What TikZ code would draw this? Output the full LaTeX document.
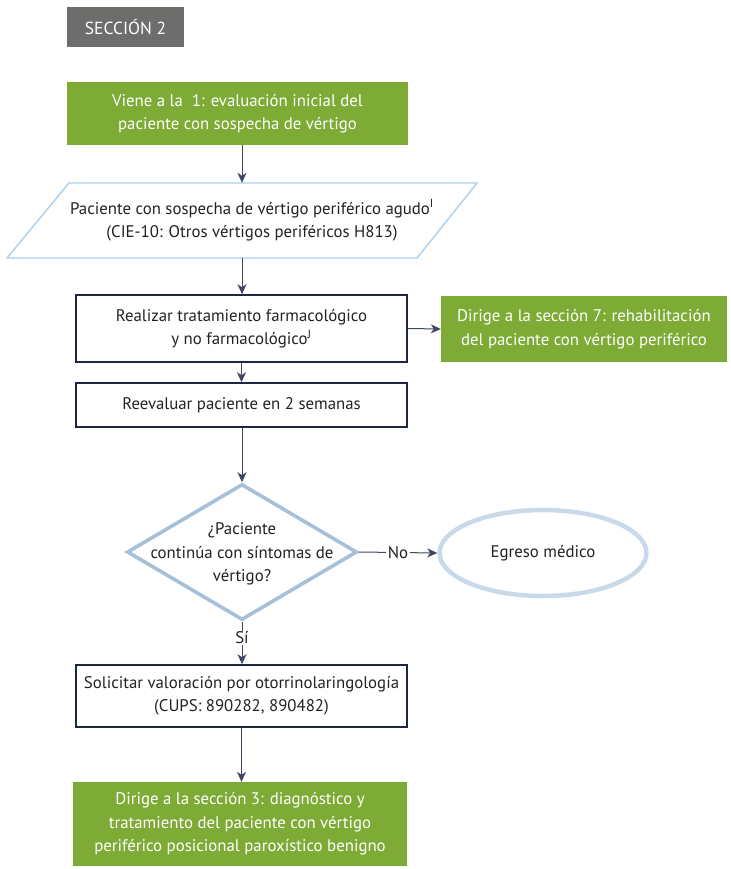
\documentclass[tikz,border=0pt]{standalone}
\usepackage{fontspec}
\setmainfont{PT Sans}
\usetikzlibrary{arrows.meta,shapes.geometric}
\definecolor{leaf}{HTML}{7DAB36}
\definecolor{slate}{HTML}{6D6D6B}
\definecolor{ink}{HTML}{1D2744}
\definecolor{txt}{HTML}{222222}
\definecolor{skyline}{HTML}{A9D1EE}
\definecolor{diamondblue}{HTML}{A6C0DA}
\definecolor{ovalblue}{HTML}{C8DAE9}
\tikzset{
  base/.style={font=\fontsize{16.8}{23.5}\selectfont, align=center, inner sep=0pt, text=txt},
  greenbox/.style={base, fill=leaf, text=white},
  framebox/.style={base, draw=ink, line width=1.6pt},
  flow/.style={draw=ink!85, line width=1pt, -{Stealth[length=10pt,width=9pt,inset=3pt]}},
}
\begin{document}
\begin{tikzpicture}[x=1pt,y=-1pt]
\useasboundingbox (0,0) rectangle (730,869);

% section tag
\node[base, font=\fontsize{17.5}{20}\selectfont, fill=slate, text=white, minimum width=117pt, minimum height=40pt] (tag) at (125.5,27) {SECCIÓN 2};

% start
\node[greenbox, minimum width=341pt, minimum height=63pt] (start) at (237.5,113.5)
  {Viene a la\ \ 1: evaluación inicial del\\paciente con sospecha de vértigo};

% input parallelogram
\coordinate (pTL) at (69,183);
\coordinate (pTR) at (477,183);
\coordinate (pBR) at (417,258);
\coordinate (pBL) at (7,258);
\draw[skyline, line width=1.4pt, line join=miter] (pTL) -- (pTR) -- (pBR) -- (pBL) -- cycle;
\node[base, minimum width=410pt, minimum height=75pt] (input) at (242,220.5) {};
\node[base] (inputtext) at (252,220.5)
  {Paciente con sospecha de vértigo periférico agudo\textsuperscript{I}\\(CIE-10: Otros vértigos periféricos H813)};

% treatment
\node[framebox, minimum width=331pt, minimum height=67pt] (treat) at (241.5,328.5)
  {Realizar tratamiento farmacológico\\y no farmacológico\textsuperscript{J}};
\node[greenbox, minimum width=286pt, minimum height=66pt] (rehab) at (584,329)
  {Dirige a la sección 7: rehabilitación\\del paciente con vértigo periférico};

% reevaluation
\node[framebox, minimum width=331pt, minimum height=44pt] (reeval) at (241.5,405)
  {Reevaluar paciente en 2 semanas};

% decision
\node[diamond, draw=diamondblue, line width=3.6pt, minimum width=230pt, minimum height=136pt, inner sep=0pt] (check) at (242,552) {};
\node[base] (checktext) at (242,554)
  {¿Paciente\\continúa con síntomas de\\vértigo?};

% discharge
\node[ellipse, draw=ovalblue, line width=4.5pt, minimum width=207pt, minimum height=86pt, inner sep=0pt, base] (discharge) at (543,553)
  {Egreso médico};

% ENT referral
\node[framebox, minimum width=331pt, minimum height=62pt] (ent) at (241.5,696)
  {Solicitar valoración por otorrinolaringología\\(CUPS: 890282, 890482)};

% section 3
\node[greenbox, minimum width=334pt, minimum height=84pt] (bppv) at (240,824)
  {Dirige a la sección 3: diagnóstico y\\tratamiento del paciente con vértigo\\periférico posicional paroxístico benigno};

% connectors
\draw[flow] (start.south -| input.north) -- (input.north);
\draw[flow] (input.south) -- (input.south |- treat.north);
\draw[flow] (treat.east) -- (rehab.west);
\draw[flow] (treat.south -| reeval.north) -- (reeval.north -| treat.south);
\draw[flow] (reeval.south -| check.north) -- (check.north);
\draw[flow] (check.east) -- node[base, fill=white, inner xsep=2pt] (nolabel) {No} (discharge.west);
\draw[flow] (check.south) -- node[base, fill=white, inner ysep=1pt, pos=0.38] (silabel) {Sí} (check.south |- ent.north);
\draw[flow] (ent.south) -- (ent.south |- bppv.north);
\end{tikzpicture}
\end{document}
